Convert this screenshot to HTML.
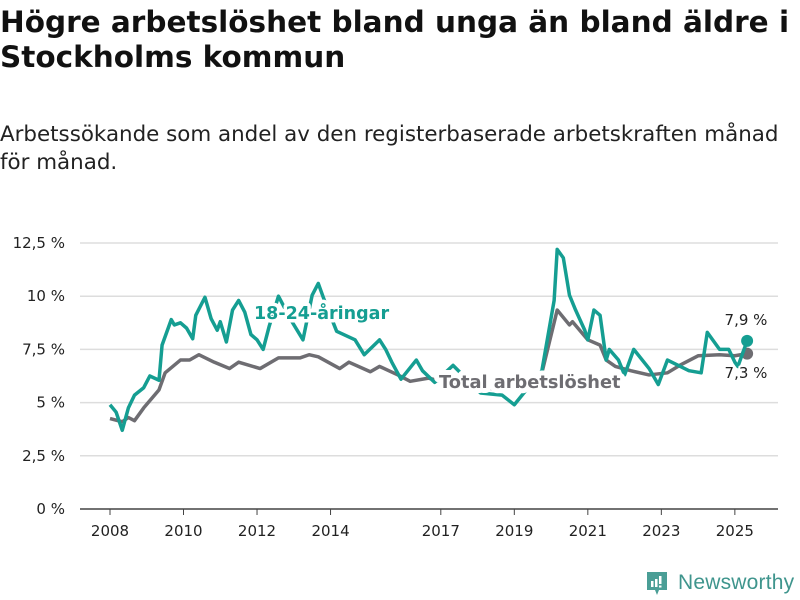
<!DOCTYPE html>
<html><head><meta charset="utf-8"><style>
body{margin:0;background:#fff;width:800px;height:600px;overflow:hidden;font-family:"DejaVu Sans","Liberation Sans",sans-serif;color:#111}
#title{position:absolute;left:0;top:5px;font-size:29.5px;font-weight:bold;line-height:35px;white-space:nowrap}
#sub{position:absolute;left:0;top:121px;font-size:21.4px;line-height:28px;color:#222;white-space:nowrap}
svg{position:absolute;left:0;top:0}
</style></head><body>
<div id="title">Högre arbetslöshet bland unga än bland äldre i<br>Stockholms kommun</div>
<div id="sub">Arbetssökande som andel av den registerbaserade arbetskraften månad<br>för månad.</div>
<svg id="chart" width="800" height="600"></svg>
<script>
const yTicks=[0,2.5,5,7.5,10,12.5];
const yTickLabels=["0 %","2,5 %","5 %","7,5 %","10 %","12,5 %"];
const xTickYears=[2008,2010,2012,2014,2017,2019,2021,2023,2025];
const youthMonths=[0,2,4,6,8,11,13,16,17,20,21,23,25,27,28,31,33,35,36,38,40,42,44,46,48,50,52,55,59,63,66,68,70,74,80,83,88,90,92,95,100,102,106,112,121,128,132,141,145,146,148,150,152,155,156,158,160,162,163,166,168,171,176,179,182,189,193,195,199,202,204,205,208];
const youthValues=[4.9,4.55,3.7,4.75,5.35,5.7,6.25,6.05,7.7,8.9,8.65,8.75,8.5,8.0,9.1,9.95,8.95,8.4,8.8,7.85,9.35,9.8,9.25,8.2,7.95,7.5,8.6,10.0,8.9,7.95,10.05,10.6,9.8,8.35,7.95,7.25,7.95,7.5,6.9,6.1,7.0,6.5,5.95,6.75,5.45,5.35,4.9,6.5,9.8,12.2,11.8,10.05,9.35,8.4,7.95,9.35,9.1,7.0,7.5,7.0,6.3,7.5,6.6,5.85,7.0,6.5,6.4,8.3,7.5,7.5,6.9,6.7,7.9];
const totalMonths=[0,4,6,8,11,16,18,23,26,29,34,39,42,49,55,62,65,68,75,78,85,88,94,98,104,108,120,132,141,146,150,151,156,160,162,165,170,176,182,186,192,199,204,208];
const totalValues=[4.25,4.1,4.3,4.15,4.75,5.6,6.4,7.0,7.0,7.25,6.9,6.6,6.9,6.6,7.1,7.1,7.25,7.15,6.6,6.9,6.45,6.7,6.3,6.0,6.15,6.0,5.7,5.6,6.4,9.35,8.65,8.8,7.95,7.7,7.0,6.7,6.5,6.3,6.4,6.75,7.2,7.25,7.2,7.3];
const svg=document.getElementById('chart');
const NS='http://www.w3.org/2000/svg';
const X=m=>110+m*3.063;
const Y=v=>509-v*21.28;
function el(t,a){const e=document.createElementNS(NS,t);for(const k in a)e.setAttribute(k,a[k]);svg.appendChild(e);return e;}
yTicks.forEach((v,i)=>{
 const g=el('line',{x1:80,x2:778,y1:Y(v),y2:Y(v),stroke:v===0?'#444':'#ddd','stroke-width':1.5});
 
 
 const t=el('text',{x:65,y:Y(v)+5,'text-anchor':'end','font-size':15,fill:'#222'});
 t.textContent=yTickLabels[i];
 
 
});
xTickYears.forEach(yr=>{
 const m=(yr-2008)*12;
 const l=el('line',{x1:X(m),x2:X(m),y1:509,y2:515,stroke:'#444','stroke-width':1});
 
 
 const t=el('text',{x:X(m),y:536,'text-anchor':'middle','font-size':15,fill:'#222'});
 t.textContent=yr;
 
 
});
function line(ms,vs,col,name){
 const p=el('polyline',{points:ms.map((m,i)=>X(m)+','+Y(vs[i])).join(' '),fill:'none',stroke:col,'stroke-width':3.5,'stroke-linejoin':'round'});
 
 
 const n=ms.length-1;
 const c=el('circle',{cx:X(ms[n]),cy:Y(vs[n]),r:6,fill:col});
 
 
}
line(totalMonths,totalValues,'#6e6d72','total-line');
line(youthMonths,youthValues,'#159e92','youth-line');
function label(x,y,txt,col,size,w,name,anchor,sw){
 const t=el('text',{x:x,y:y,'font-size':size,'font-weight':w,fill:col,stroke:'#fff','stroke-width':sw,'paint-order':'stroke','stroke-linejoin':'round','text-anchor':anchor||'start'});
 t.textContent=txt;
 
 
}
label(254,319,'18-24-åringar','#159e92',17.5,'bold','youth-series-label','start',7);
label(439,388,'Total arbetslöshet','#6e6d72',17.8,'bold','total-series-label','start',10);
label(746,325,'7,9 %','#222',15,'normal','youth-end-value','middle',4);
label(746,378,'7,3 %','#222',15,'normal','total-end-value','middle',4);
</script>
<div style="position:absolute;left:645px;top:570px;height:26px;display:flex;align-items:center">
 <svg width="24" height="26" style="position:static"><path d="M2 2h20v18h-8l-2 5-2-5H2z" fill="#4a9e96"/><rect x="6" y="11" width="2.5" height="6" fill="#fff"/><rect x="10" y="9" width="2.5" height="8" fill="#fff"/><rect x="14" y="6" width="2.5" height="8" fill="#fff"/><rect x="14" y="15.5" width="2.5" height="2" fill="#fff"/></svg>
 <span style="font-family:'Liberation Sans',sans-serif;font-size:21px;color:#3f958d;margin-left:9px;letter-spacing:0.2px">Newsworthy</span>
</div>
</body></html>
